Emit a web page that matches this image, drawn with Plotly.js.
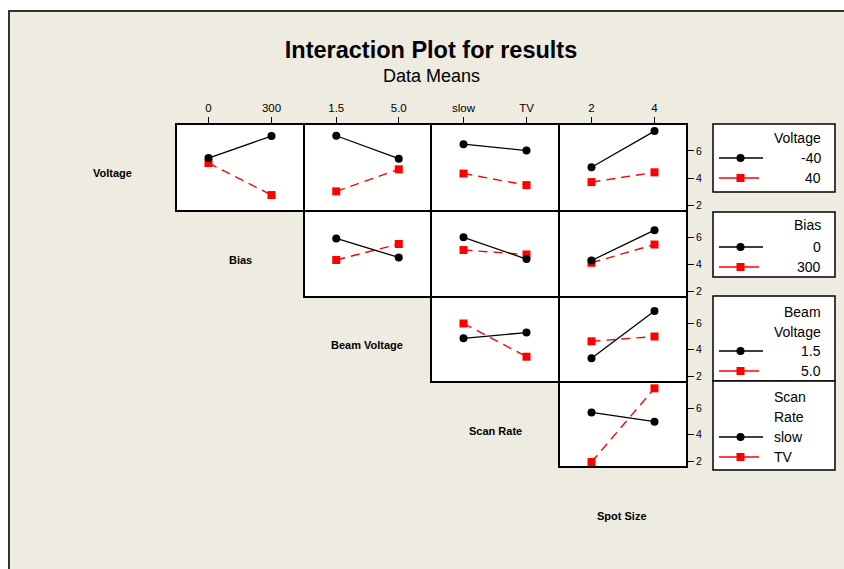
<!DOCTYPE html>
<html>
<head>
<meta charset="utf-8">
<script src="https://cdn.plot.ly/plotly-3.0.1.min.js"></script>
<style>
  html, body { margin: 0; padding: 0; background: #ffffff; }
  #chart { width: 844px; height: 569px; }
</style>
</head>
<body>
<div id="chart"></div>
<script>
// Factors of the experiment and their two levels
const factorNames = ['Voltage', 'Bias', 'Beam Voltage', 'Scan Rate', 'Spot Size'];
const voltageLevels = ['-40', '40'];
const biasLevels = ['0', '300'];
const beamVoltageLevels = ['1.5', '5.0'];
const scanRateLevels = ['slow', 'TV'];
const spotSizeLevels = ['2', '4'];

// Mean response for each trace factor level, one pair per x-factor panel
// Voltage row: panels vs Bias, Beam Voltage, Scan Rate, Spot Size
const voltageLowMeans  = [[5.47, 7.09], [7.11, 5.42], [6.49, 6.02], [4.79, 7.45]];
const voltageHighMeans = [[5.10, 2.75], [3.02, 4.64], [4.33, 3.48], [3.70, 4.42]];
// Bias row: panels vs Beam Voltage, Scan Rate, Spot Size
const biasLowMeans  = [[5.93, 4.52], [6.02, 4.40], [4.29, 6.55]];
const biasHighMeans = [[4.33, 5.52], [5.07, 4.74], [4.12, 5.48]];
// Beam Voltage row: panels vs Scan Rate, Spot Size
const beamLowMeans  = [[4.86, 5.30], [3.36, 6.92]];
const beamHighMeans = [[5.98, 3.48], [4.64, 5.00]];
// Scan Rate row: panel vs Spot Size
const scanLowMeans  = [[5.68, 4.99]];
const scanHighMeans = [[1.95, 7.50]];

const yTicks = [2, 4, 6];

const allLevels = [voltageLevels, biasLevels, beamVoltageLevels, scanRateLevels, spotSizeLevels];
const lowMeans = [voltageLowMeans, biasLowMeans, beamLowMeans, scanLowMeans];
const highMeans = [voltageHighMeans, biasHighMeans, beamHighMeans, scanHighMeans];

// ---- geometry (pixels of the 844 x 569 page) ----
const W = 844, H = 569;
// centre lines of the panel borders; panels sit between them
const colLines = [176, 304, 431, 559, 687];
const rowLines = [124, 211, 297, 382, 467];
const BORDER = 2;
const px = v => v / W;
const py = v => 1 - v / H;

const FONT = 'Liberation Sans, Arial, sans-serif';
const BLACK = '#000000';
const RED = '#ff0000';

const traces = [];
const layout = {
  width: W, height: H,
  margin: { l: 0, r: 0, t: 0, b: 0 },
  paper_bgcolor: '#eeebe1',
  plot_bgcolor: '#ffffff',
  showlegend: false,
  font: { family: FONT, color: '#000' },
  title: {
    text: '<b>Interaction Plot for results</b>',
    x: 431 / W, xanchor: 'center',
    y: py(50), yanchor: 'middle',
    font: { family: FONT, size: 23.5, color: '#000' }
  },
  annotations: [],
  shapes: []
};

let k = 0;
for (let r = 0; r < 4; r++) {
  for (let c = r; c < 4; c++) {
    k++;
    const xa = 'x' + (k === 1 ? '' : k);
    const ya = 'y' + (k === 1 ? '' : k);
    const xKey = 'xaxis' + (k === 1 ? '' : k);
    const yKey = 'yaxis' + (k === 1 ? '' : k);
    const xLevels = allLevels[c + 1];

    layout[xKey] = {
      domain: [px(colLines[c] + BORDER / 2), px(colLines[c + 1] - BORDER / 2)],
      anchor: ya,
      range: [-0.5, 1.5],
      tickvals: [0, 1],
      ticktext: xLevels,
      side: 'top',
      showticklabels: r === 0,
      ticks: r === 0 ? 'outside' : '',
      ticklen: 6, tickwidth: 1, tickcolor: '#000',
      tickfont: { family: FONT, size: 11.5, color: '#000' },
      showgrid: false, zeroline: false,
      showline: true, mirror: true, linecolor: '#000', linewidth: BORDER,
      fixedrange: true
    };
    layout[yKey] = {
      domain: [py(rowLines[r + 1] - BORDER / 2), py(rowLines[r] + BORDER / 2)],
      anchor: xa,
      range: [1.65, 7.9],
      tickvals: yTicks,
      side: 'right',
      showticklabels: c === 3,
      ticks: c === 3 ? 'outside' : '',
      ticklen: 6, tickwidth: 1, tickcolor: '#000',
      tickfont: { family: FONT, size: 10.5, color: '#000' },
      showgrid: false, zeroline: false,
      showline: true, mirror: true, linecolor: '#000', linewidth: BORDER,
      fixedrange: true
    };

    const xVals = [0, 1];
    traces.push({
      type: 'scatter', mode: 'lines+markers', xaxis: xa, yaxis: ya,
      x: xVals, y: highMeans[r][c - r],
      line: { color: RED, width: 1.4, dash: '9px,6px' },
      marker: { symbol: 'square', size: 8, color: RED },
      hoverinfo: 'y', cliponaxis: false
    });
    traces.push({
      type: 'scatter', mode: 'lines+markers', xaxis: xa, yaxis: ya,
      x: xVals, y: lowMeans[r][c - r],
      line: { color: BLACK, width: 1.3 },
      marker: { symbol: 'circle', size: 8, color: BLACK },
      hoverinfo: 'y', cliponaxis: false
    });
  }
}

// subtitle
layout.annotations.push({
  xref: 'paper', yref: 'paper', x: 431 / W, y: py(76),
  xanchor: 'center', yanchor: 'middle', showarrow: false,
  text: 'Data Means', font: { family: FONT, size: 18, color: '#000' }
});

// factor names along the diagonal
const diagLabelPos = [[112, 173], [240, 260], [367, 345], [496, 431], [622, 516]];
factorNames.forEach((name, i) => {
  layout.annotations.push({
    xref: 'paper', yref: 'paper', x: px(diagLabelPos[i][0]), y: py(diagLabelPos[i][1]),
    xanchor: 'center', yanchor: 'middle', showarrow: false,
    text: '<b>' + name + '</b>', font: { family: FONT, size: 11, color: '#000' }
  });
});

// white surround and frame of the graph window
layout.shapes.push(
  { type: 'rect', xref: 'paper', yref: 'paper', x0: 0, x1: px(8), y0: 0, y1: 1,
    fillcolor: '#ffffff', line: { width: 0 }, layer: 'below' },
  { type: 'rect', xref: 'paper', yref: 'paper', x0: 0, x1: 1, y0: py(10), y1: 1,
    fillcolor: '#ffffff', line: { width: 0 }, layer: 'below' },
  { type: 'line', xref: 'paper', yref: 'paper', x0: px(9), x1: px(9), y0: 0, y1: py(10),
    line: { color: '#333333', width: 2 } },
  { type: 'line', xref: 'paper', yref: 'paper', x0: px(8), x1: 1, y0: py(11), y1: py(11),
    line: { color: '#333333', width: 2 } }
);

// legend boxes, one per trace factor
const legendBoxes = [
  { y0: 124, y1: 192, title: ['Voltage'], rows: [158, 178], titleRows: [138], align: 'right' },
  { y0: 212, y1: 277, title: ['Bias'], rows: [247, 267], titleRows: [225], align: 'right' },
  { y0: 296, y1: 381, title: ['Beam', 'Voltage'], rows: [351, 371], titleRows: [312, 332], align: 'right' },
  { y0: 381, y1: 470, title: ['Scan', 'Rate'], rows: [437, 457], titleRows: [397, 417], align: 'left' }
];
legendBoxes.forEach((b, i) => {
  layout.shapes.push({
    type: 'rect', xref: 'paper', yref: 'paper',
    x0: px(713), x1: px(835), y0: py(b.y1), y1: py(b.y0),
    fillcolor: '#ffffff', line: { color: '#000', width: 1.5 }, layer: 'below'
  });
  const tx = b.align === 'right' ? 823 : 772;
  const texts = b.title.map((t, j) => [t, b.titleRows[j]])
    .concat([[allLevels[i][0], b.rows[0]], [allLevels[i][1], b.rows[1]]]);
  texts.forEach(([t, yy]) => {
    layout.annotations.push({
      xref: 'paper', yref: 'paper', x: px(tx), y: py(yy),
      xanchor: b.align, yanchor: 'middle', showarrow: false,
      text: t, font: { family: FONT, size: 14, color: '#000' }
    });
  });
  // black sample: line with circle; red sample: line with square
  const yb = b.rows[0], yr = b.rows[1];
  layout.shapes.push(
    { type: 'line', xref: 'paper', yref: 'paper', x0: px(719), x1: px(763), y0: py(yb), y1: py(yb),
      line: { color: BLACK, width: 1.3 } },
    { type: 'circle', xref: 'paper', yref: 'paper', x0: px(736.5), x1: px(744.5), y0: py(yb + 4), y1: py(yb - 4),
      fillcolor: BLACK, line: { color: BLACK, width: 0 } },
    { type: 'line', xref: 'paper', yref: 'paper', x0: px(719), x1: px(759), y0: py(yr), y1: py(yr),
      line: { color: RED, width: 1.3 } },
    { type: 'rect', xref: 'paper', yref: 'paper', x0: px(736.5), x1: px(744.5), y0: py(yr + 4), y1: py(yr - 4),
      fillcolor: RED, line: { color: RED, width: 0 } }
  );
});

Plotly.newPlot('chart', traces, layout, { displayModeBar: false, staticPlot: true });
</script>
</body>
</html>
